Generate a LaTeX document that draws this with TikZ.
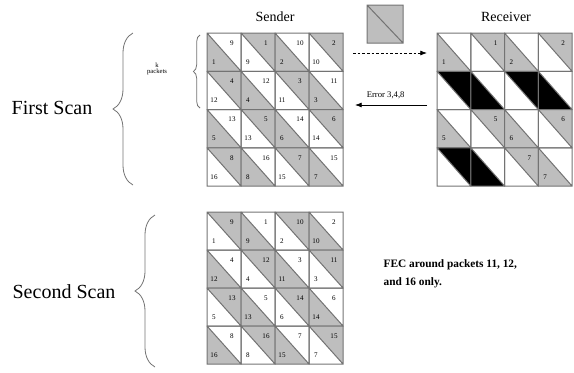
\documentclass[tikz,border=0pt]{standalone}
\usepackage{fontspec}
\setmainfont{Liberation Serif}
\usetikzlibrary{arrows.meta, decorations.pathreplacing}
\definecolor{pktgray}{RGB}{190,190,190}
\definecolor{linegray}{RGB}{115,115,115}
% row/col/upper packet/lower packet
\def\pktlist{0/0/9/1, 0/1/1/9, 0/2/10/2, 0/3/2/10, 1/0/4/12, 1/1/12/4, 1/2/3/11, 1/3/11/3,
  2/0/13/5, 2/1/5/13, 2/2/14/6, 2/3/6/14, 3/0/8/16, 3/1/16/8, 3/2/7/15, 3/3/15/7}
\tikzset{
  cellline/.style={draw=linegray, line width=0.75pt},
  numlab/.style={font=\fontsize{5.3}{6}\selectfont, inner sep=0pt},
  headlab/.style={font=\fontsize{10.5}{12}\selectfont},
  scanlab/.style={font=\fontsize{15}{16}\selectfont},
  scanbrace/.style={decorate, decoration={brace, amplitude=#1}, draw=linegray, line width=0.6pt},
  scanbrace/.default=15pt
}

\begin{document}
\begin{tikzpicture}[x=0.75pt, y=-0.75pt]
    \useasboundingbox (0,0) rectangle (574,372);
    % sender, first scan
    \foreach \r/\c/\t/\b in \pktlist {
        \coordinate (s\r\c) at ({207+34*\c},{33+38.25*\r});
        \ifnum\t<9 \fill[pktgray] (s\r\c) -- ++(34,0) -- ++(0,38.25) -- cycle; \fi
        \ifnum\b<9 \fill[pktgray] (s\r\c) -- ++(0,38.25) -- ++(34,0) -- cycle; \fi
        \draw[cellline] (s\r\c) rectangle ++(34,38.25) (s\r\c) -- ++(34,38.25);
        \node[numlab] (st\r\c) at ([shift={(25,10)}]s\r\c) {\t};
        \node[numlab] (sb\r\c) at ([shift={(7,29)}]s\r\c) {\b};
    }
    % receiver: 3, 4 and 8 lost, FEC packets blank
    \foreach \r/\c/\t/\b in \pktlist {
        \coordinate (r\r\c) at ({437+33.75*\c},{33+38.25*\r});
        \pgfmathtruncatemacro\tlost{(\t==3)||(\t==4)||(\t==8)}
        \pgfmathtruncatemacro\blost{(\b==3)||(\b==4)||(\b==8)}
        \ifnum\t<9
            \ifnum\tlost=1 \fill[black] (r\r\c) -- ++(33.75,0) -- ++(0,38.25) -- cycle;
            \else \fill[pktgray] (r\r\c) -- ++(33.75,0) -- ++(0,38.25) -- cycle;
                \node[numlab] (rt\r\c) at ([shift={(25,10)}]r\r\c) {\t}; \fi
        \fi
        \ifnum\b<9
            \ifnum\blost=1 \fill[black] (r\r\c) -- ++(0,38.25) -- ++(33.75,0) -- cycle;
            \else \fill[pktgray] (r\r\c) -- ++(0,38.25) -- ++(33.75,0) -- cycle;
                \node[numlab] (rb\r\c) at ([shift={(7,29)}]r\r\c) {\b}; \fi
        \fi
        \draw[cellline] (r\r\c) rectangle ++(33.75,38.25) (r\r\c) -- ++(33.75,38.25);
    }
    % sender, second scan
    \foreach \r/\c/\t/\b in \pktlist {
        \coordinate (q\r\c) at ({207+34*\c},{212+38*\r});
        \ifnum\t>8 \fill[pktgray] (q\r\c) -- ++(34,0) -- ++(0,38) -- cycle; \fi
        \ifnum\b>8 \fill[pktgray] (q\r\c) -- ++(0,38) -- ++(34,0) -- cycle; \fi
        \draw[cellline] (q\r\c) rectangle ++(34,38) (q\r\c) -- ++(34,38);
        \node[numlab] (qt\r\c) at ([shift={(25,10)}]q\r\c) {\t};
        \node[numlab] (qb\r\c) at ([shift={(7,29)}]q\r\c) {\b};
    }

    \node[headlab] (sender) at (275,17) {Sender};
    \node[headlab] (receiver) at (506,17) {Receiver};

    % one packet
    \draw[cellline, fill=pktgray] (367,5) rectangle (403,43) (367,5) -- (403,43);
    \coordinate (sendout) at (353,53); \coordinate (recvin) at (427,53);
    \draw[line width=0.6pt, dash pattern=on 2pt off 1.5pt, -{Latex[length=5pt]}] (sendout) -- (recvin);
    \coordinate (recvout) at (427,105); \coordinate (sendin) at (355,105);
    \draw[line width=0.6pt, -{Latex[length=5pt]}] (recvout) -- node[above=1pt, font=\fontsize{6.5}{8}\selectfont, xshift=-4pt] (err) {Error 3,4,8} (sendin);

    \node[scanlab] (first) at (52,108) {First Scan};
    \draw[scanbrace] (133,185) -- (133,33);
    \draw[scanbrace=5pt] (200,108) -- (200,35);
    \node[font=\fontsize{5}{5}\selectfont, align=center] (kpk) at (157,69) {k\\packets};

    \node[scanlab] (second) at (64,292) {Second Scan};
    \draw[scanbrace] (155,367) -- (155,215);

    \node[anchor=west, align=left, font=\bfseries\fontsize{8.5}{13.5}\selectfont] (fec) at (379,274) {FEC around packets 11, 12,\\and 16 only.};
\end{tikzpicture}
\end{document}
